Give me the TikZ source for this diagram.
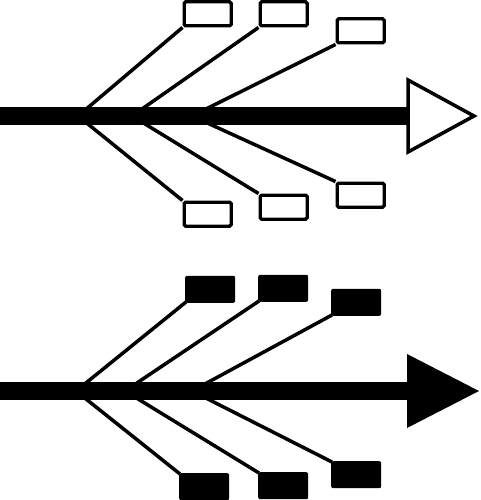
\documentclass[tikz,border=0pt]{standalone}
\usepackage{tikz}
\usetikzlibrary{positioning}
\begin{document}
\begin{tikzpicture}[x=1pt,y=-1pt,
        shaft/.style={line width=18pt},
        branch/.style={line width=3.5pt},
        openbox/.style={draw,line width=3.3pt,rounded corners=1.5pt,minimum width=47pt,minimum height=24pt,inner sep=0pt},
        solidbox/.style={fill,rounded corners=2pt,minimum width=50pt,minimum height=27pt,inner sep=0pt}]
        \useasboundingbox (0,0) rectangle (480,500);

        \node[openbox,anchor=south west] (u1) at (182.5,27.5) {};
        \node[openbox,anchor=south west] (u2) at (258.5,27.5) {};
        \node[openbox,anchor=south west] (u3) at (335.5,44.5) {};
        \node[openbox,anchor=north west] (d1) at (182.5,200.5) {};
        \node[openbox,anchor=north west] (d2) at (258.5,193.5) {};
        \node[openbox,anchor=north west] (d3) at (335.5,181.5) {};
        \coordinate (f1) at (78,116);
        \coordinate (f2) at (132,116);
        \coordinate (f3) at (192,116);
        \draw[branch] (u1.south west) -- (f1);
        \draw[branch] (u2.south west) -- (f2);
        \draw[branch] (u3.south west) -- (f3);
        \draw[branch] (d1.north west) -- (f1);
        \draw[branch] (d2.north west) -- (f2);
        \draw[branch] (d3.north west) -- (f3);
        \coordinate (tail) at (0,116);
        \coordinate (neck) at (410,116);
        \draw[shaft] (tail) -- (neck);
        \draw[line width=3.5pt,line join=miter] (408,80) -- (474,116) -- (408,152) -- cycle;

        \node[solidbox,anchor=south west] (p1) at (185,303) {};
        \node[solidbox,anchor=south west] (p2) at (258,302) {};
        \node[solidbox,anchor=south west] (p3) at (331,316) {};
        \node[solidbox,anchor=north west] (q1) at (179,473) {};
        \node[solidbox,anchor=north west] (q2) at (258,472) {};
        \node[solidbox,anchor=north west] (q3) at (331,461) {};
        \coordinate (g1) at (76,391);
        \coordinate (g2) at (125,391);
        \coordinate (g3) at (192,391);
        \draw[branch] ([xshift=1pt,yshift=1pt]p1.south west) -- (g1);
        \draw[branch] ([xshift=1pt,yshift=1pt]p2.south west) -- (g2);
        \draw[branch] ([xshift=1pt,yshift=1pt]p3.south west) -- (g3);
        \draw[branch] ([xshift=1pt,yshift=-1pt]q1.north west) -- (g1);
        \draw[branch] ([xshift=1pt,yshift=-1pt]q2.north west) -- (g2);
        \draw[branch] ([xshift=1pt,yshift=-1pt]q3.north west) -- (g3);
        \coordinate (tail2) at (0,391);
        \coordinate (neck2) at (410,391);
        \draw[shaft] (tail2) -- (neck2);
        \fill (407,354) -- (479,391) -- (407,428) -- cycle;
\end{tikzpicture}
\end{document}
